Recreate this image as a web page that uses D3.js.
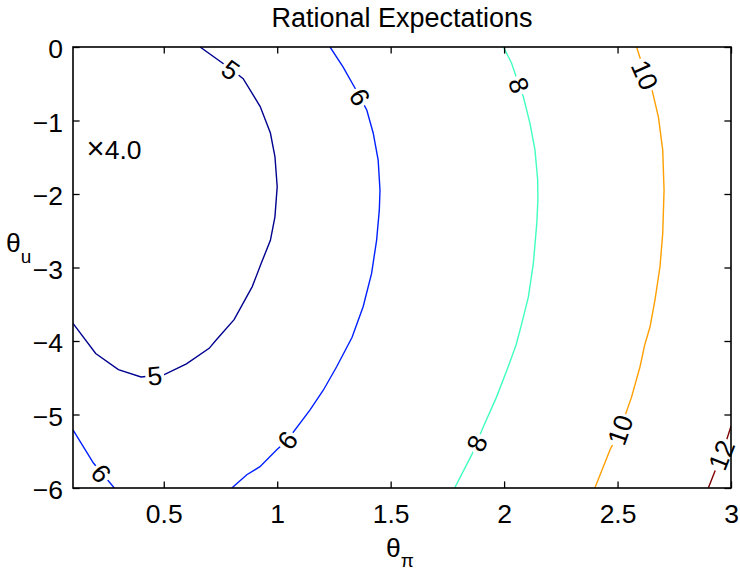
<!DOCTYPE html>
<html>
<head>
<meta charset="utf-8">
<script src="https://cdn.jsdelivr.net/npm/d3@7"></script>
<style>
  html, body { margin: 0; padding: 0; background: #fff; }
  svg { display: block; font-family: "Liberation Sans", Arial, Helvetica, sans-serif; }
</style>
</head>
<body>
<svg id="chart" width="740" height="573"></svg>
<script>
// Axis ranges and ticks
const xDomain = [0.1, 3];
const yDomain = [-6, 0];
const xTicks = [0.5, 1, 1.5, 2, 2.5, 3];
const yTicks = [0, -1, -2, -3, -4, -5, -6];

// Contour levels and their colours (jet colormap)
const levels = [5, 6, 8, 10, 12];
const levelColors = ["#00008f", "#0020ff", "#40ffbf", "#ff9f00", "#800000"];

// Contour polylines, [theta_pi, theta_u]
const contour5 = [
  [0.66, 0], [0.80, -0.31], [0.85, -0.43], [0.925, -0.81], [0.97, -1.17],
  [0.99, -1.49], [1.0, -1.9], [0.99, -2.31], [0.97, -2.63], [0.93, -2.94],
  [0.89, -3.26], [0.81, -3.71], [0.73, -3.99], [0.70, -4.10], [0.60, -4.31],
  [0.50, -4.46], [0.40, -4.49], [0.30, -4.39], [0.20, -4.17], [0.10, -3.76]
];
const contour6a = [
  [1.233, 0], [1.29, -0.27], [1.365, -0.68], [1.395, -0.86], [1.423, -1.17],
  [1.445, -1.54], [1.453, -1.95], [1.45, -2.22], [1.438, -2.63], [1.416, -3.08],
  [1.379, -3.53], [1.33, -3.95], [1.262, -4.35], [1.203, -4.67], [1.144, -4.94],
  [1.044, -5.35], [0.998, -5.48], [0.924, -5.71], [0.866, -5.82], [0.80, -6]
];
const contour6b = [
  [0.10, -5.21], [0.19, -5.66], [0.282, -6]
];
const contour8 = [
  [1.997, 0], [2.033, -0.22], [2.066, -0.52], [2.085, -0.68], [2.114, -1.04],
  [2.136, -1.40], [2.148, -1.81], [2.149, -2.08], [2.144, -2.40], [2.129, -2.94],
  [2.107, -3.40], [2.078, -3.76], [2.053, -4.05], [2.018, -4.35], [1.967, -4.76],
  [1.908, -5.17], [1.857, -5.55], [1.782, -6]
];
const contour10 = [
  [2.584, 0], [2.621, -0.36], [2.65, -0.56], [2.68, -0.95], [2.699, -1.40],
  [2.705, -1.95], [2.699, -2.54], [2.687, -2.99], [2.665, -3.44], [2.643, -3.81],
  [2.62, -4.05], [2.599, -4.35], [2.562, -4.76], [2.511, -5.21], [2.467, -5.48],
  [2.40, -6]
];
const contour12 = [
  [2.90, -6], [2.937, -5.71], [2.97, -5.45], [3.0, -5.16]
];

// Inline contour labels: level and anchor point on the line
const labelLevels = [5, 5, 6, 6, 6, 8, 8, 10, 10, 12];
const labelAnchors = [
  [0.796, -0.31], [0.46, -4.47], [1.365, -0.68], [1.044, -5.35], [0.225, -5.80],
  [2.066, -0.52], [1.88, -5.39], [2.621, -0.38], [2.511, -5.21], [2.957, -5.55]
];

// Minimum marker
const minMark = "\u00d7";
const minValue = "4.0";
const minAnchor = [0.16, -1.40];

const titleText = "Rational Expectations";

// ---------------------------------------------------------------
const W = 740, H = 573;
const plot = { left: 73, right: 731, top: 47, bottom: 488 };
const FONT = 26.5;

const svg = d3.select("#chart");
const x = d3.scaleLinear().domain(xDomain).range([plot.left, plot.right]);
const y = d3.scaleLinear().domain(yDomain).range([plot.bottom, plot.top]);

const colorOf = d3.scaleOrdinal().domain(levels).range(levelColors);

const lines = [
  { level: 5, pts: contour5 },
  { level: 6, pts: contour6a },
  { level: 6, pts: contour6b },
  { level: 8, pts: contour8 },
  { level: 10, pts: contour10 },
  { level: 12, pts: contour12 }
];

const defs = svg.append("defs");
defs.append("clipPath").attr("id", "plotClip")
  .append("rect")
  .attr("x", plot.left).attr("y", plot.top)
  .attr("width", plot.right - plot.left).attr("height", plot.bottom - plot.top);

const mask = defs.append("mask").attr("id", "labelGaps")
  .attr("maskUnits", "userSpaceOnUse")
  .attr("x", 0).attr("y", 0).attr("width", W).attr("height", H);
mask.append("rect").attr("x", 0).attr("y", 0).attr("width", W).attr("height", H).attr("fill", "#fff");

const lineGen = d3.line().x(d => x(d[0])).y(d => y(d[1]));

svg.append("g")
  .attr("clip-path", "url(#plotClip)")
  .append("g")
  .attr("mask", "url(#labelGaps)")
  .selectAll("path")
  .data(lines)
  .join("path")
  .attr("d", d => lineGen(d.pts))
  .attr("fill", "none")
  .attr("stroke", d => colorOf(d.level))
  .attr("stroke-width", 1.4);

// Tangent angle (screen space) of the polyline nearest to a point
function tangentAngle(pts, p) {
  const px = x(p[0]), py = y(p[1]);
  let best = Infinity, ang = 0;
  for (let i = 0; i < pts.length - 1; i++) {
    const ax = x(pts[i][0]), ay = y(pts[i][1]);
    const bx = x(pts[i + 1][0]), by = y(pts[i + 1][1]);
    const dx = bx - ax, dy = by - ay;
    const L2 = dx * dx + dy * dy;
    let t = ((px - ax) * dx + (py - ay) * dy) / L2;
    t = Math.max(0, Math.min(1, t));
    const qx = ax + t * dx, qy = ay + t * dy;
    const dist = Math.hypot(px - qx, py - qy);
    if (dist < best) { best = dist; ang = Math.atan2(dy, dx) * 180 / Math.PI; }
  }
  while (ang > 90) ang -= 180;
  while (ang <= -90) ang += 180;
  return ang;
}

function lineFor(level, p) {
  let best = null, bd = Infinity;
  lines.filter(l => l.level === level).forEach(l => {
    l.pts.forEach(q => {
      const d = Math.hypot(x(q[0]) - x(p[0]), y(q[1]) - y(p[1]));
      if (d < bd) { bd = d; best = l; }
    });
  });
  return best;
}

const labelData = labelLevels.map((lv, i) => {
  const p = labelAnchors[i];
  const ln = lineFor(lv, p);
  return { level: lv, p, angle: tangentAngle(ln.pts, p) };
});

const labelG = svg.append("g");
labelData.forEach(d => {
  const t = labelG.append("text")
    .attr("transform", `translate(${x(d.p[0])},${y(d.p[1])}) rotate(${d.angle})`)
    .attr("text-anchor", "middle")
    .attr("dy", "0.36em")
    .attr("font-size", FONT)
    .attr("fill", "#000")
    .text(d.level);
  const len = t.node().getComputedTextLength();
  mask.append("rect")
    .attr("transform", `translate(${x(d.p[0])},${y(d.p[1])}) rotate(${d.angle})`)
    .attr("x", -len / 2 - 2).attr("y", -8)
    .attr("width", len + 4).attr("height", 16)
    .attr("fill", "#000");
});

// Minimum marker text
const mt = svg.append("text")
  .attr("x", x(minAnchor[0])).attr("y", y(minAnchor[1]))
  .attr("font-size", FONT)
  .attr("dy", "0.36em");
mt.append("tspan").attr("font-size", 31).text(minMark);
mt.append("tspan").text(minValue);

// Axes with inward ticks on all four sides
const tickLen = 6.6;
const fmt = d => d3.format("")(d);

const gx = svg.append("g")
  .attr("transform", `translate(0,${plot.bottom})`)
  .call(d3.axisBottom(x).tickValues(xTicks).tickFormat(fmt)
    .tickSizeInner(-tickLen).tickSizeOuter(0).tickPadding(16));
const gxTop = svg.append("g")
  .attr("transform", `translate(0,${plot.top})`)
  .call(d3.axisTop(x).tickValues(xTicks).tickFormat("")
    .tickSizeInner(-tickLen).tickSizeOuter(0));
const gy = svg.append("g")
  .attr("transform", `translate(${plot.left},0)`)
  .call(d3.axisLeft(y).tickValues(yTicks).tickFormat(fmt)
    .tickSizeInner(-tickLen).tickSizeOuter(0).tickPadding(10));
const gyRight = svg.append("g")
  .attr("transform", `translate(${plot.right},0)`)
  .call(d3.axisRight(y).tickValues(yTicks).tickFormat("")
    .tickSizeInner(-tickLen).tickSizeOuter(0));

[gx, gxTop, gy, gyRight].forEach(g => {
  g.select(".domain").remove();
  g.selectAll(".tick line").attr("stroke", "#000").attr("stroke-width", 1.3);
  g.selectAll(".tick text")
    .attr("font-size", FONT)
    .attr("font-family", "Liberation Sans, Arial, sans-serif")
    .attr("fill", "#000");
});
gy.selectAll(".tick text").attr("dy", "0.4em");

// Box
svg.append("rect")
  .attr("x", plot.left).attr("y", plot.top)
  .attr("width", plot.right - plot.left).attr("height", plot.bottom - plot.top)
  .attr("fill", "none").attr("stroke", "#000").attr("stroke-width", 1.6);

// Title
svg.append("text")
  .attr("x", (plot.left + plot.right) / 2).attr("y", 26.5)
  .attr("text-anchor", "middle")
  .attr("font-size", 27)
  .text(titleText);

// Axis labels with subscripts
const xl = svg.append("text")
  .attr("x", 400).attr("y", 557)
  .attr("text-anchor", "middle")
  .attr("font-size", FONT);
xl.append("tspan").text("\u03b8");
xl.append("tspan").attr("font-size", 19).attr("dy", 10).text("\u03c0");

const yl = svg.append("text")
  .attr("x", 6).attr("y", 252)
  .attr("font-size", FONT);
yl.append("tspan").text("\u03b8");
yl.append("tspan").attr("font-size", 19).attr("dy", 11).text("u");
</script>
</body>
</html>
